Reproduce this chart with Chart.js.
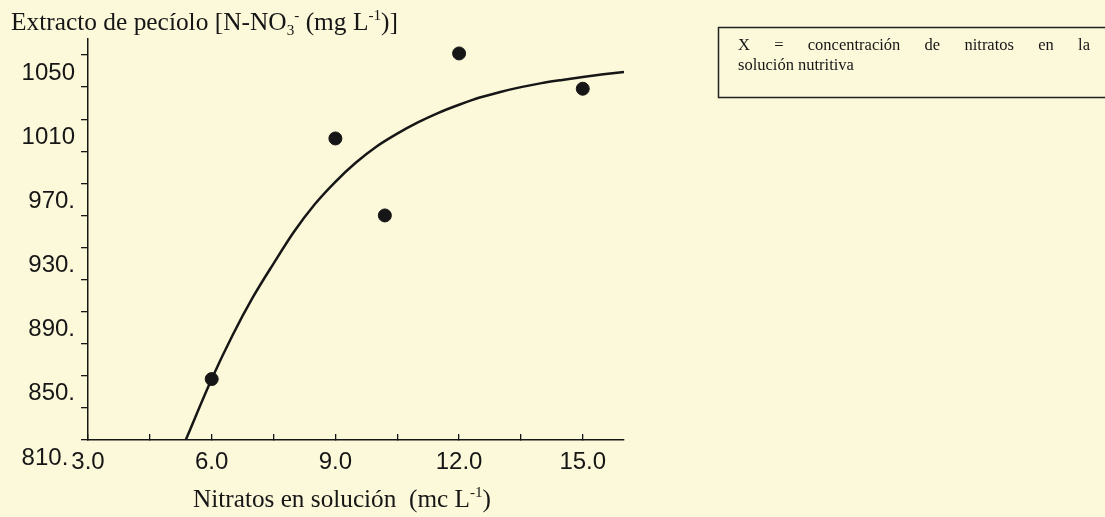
<!DOCTYPE html>
<html>
<head>
<meta charset="utf-8">
<script src="https://cdn.jsdelivr.net/npm/chart.js@4.4.1/dist/chart.umd.min.js"></script>
<style>
  html, body { margin: 0; padding: 0; background: #fcf8da; }
  #wrap { width: 1105px; height: 517px; position: relative; }
</style>
</head>
<body>
<div id="wrap"><canvas id="chart" width="1105" height="517"></canvas></div>
<script>
// measured points (Nitratos en solución vs extracto de pecíolo)
const obsX = [6.0, 9.0, 10.2, 12.0, 15.0];
const obsY = [848, 998, 950, 1051, 1029];

// fitted curve
const fitX = [5.37, 6.0, 6.5, 7.0, 7.5, 8.0, 8.5, 9.0, 9.5, 10.0, 10.5, 11.0, 11.5, 12.0, 12.5, 13.0, 13.5, 14.0, 14.5, 15.0, 15.5, 16.0];
const fitY = [810, 848, 875, 899, 920, 940, 957, 971, 983, 993, 1001, 1008, 1014, 1019, 1023.5, 1027, 1030, 1032.5, 1034.5, 1036.3, 1038, 1039.5];

const xTickValues = [3, 4.5, 6, 7.5, 9, 10.5, 12, 13.5, 15];
const xTickLabels = ['3.0', '', '6.0', '', '9.0', '', '12.0', '', '15.0'];
const yTickValues = [810, 830, 850, 870, 890, 910, 930, 950, 970, 990, 1010, 1030, 1050];
const yTickLabels = ['810. ', '', '850.', '', '890.', '', '930.', '', '970.', '', '1010', '', '1050'];

const yTitle = [['Extracto de pecíolo [N-NO'], ['3', 'sub'], ['-', 'sup'], [' (mg L'], ['-1', 'sup'], [')]']];
const xTitle = [['Nitratos en solución  (mc L'], ['-1', 'sup'], [')']];
const noteLine1 = ['X', '=', 'concentración', 'de', 'nitratos', 'en', 'la'];
const noteLine2 = 'solución nutritiva';

const ink = '#161616';
const serif = '"Liberation Serif", "DejaVu Serif", serif';
const sans = '"Liberation Sans", Arial, sans-serif';

// draws text with sub/superscripts, squeezed to a given width
function drawRich(ctx, segs, x, baseline, size, width) {
    const fontFor = s => `${s[1] ? size * 0.6 : size}px ${serif}`;
    let total = 0;
    segs.forEach(s => { ctx.font = fontFor(s); total += ctx.measureText(s[0]).width; });
    ctx.save();
    ctx.translate(x, baseline);
    ctx.scale(width / total, 1);
    ctx.textBaseline = 'alphabetic';
    ctx.textAlign = 'left';
    let cx = 0;
    segs.forEach(s => {
        ctx.font = fontFor(s);
        const dy = s[1] === 'sup' ? -size * 0.4 : s[1] === 'sub' ? size * 0.2 : 0;
        ctx.fillText(s[0], cx, dy);
        cx += ctx.measureText(s[0]).width;
    });
    ctx.restore();
}

const textPlugin = {
    id: 'texts',
    afterDraw(chart) {
        const ctx = chart.ctx;
        ctx.save();
        ctx.fillStyle = ink;
        drawRich(ctx, yTitle, 11, 30, 26, 387);
        drawRich(ctx, xTitle, 193, 507, 26, 298);

        // note box, its right side runs off the page
        ctx.strokeStyle = '#222';
        ctx.lineWidth = 1.5;
        ctx.strokeRect(718.5, 27.5, 400, 70);
        ctx.font = `16.5px ${serif}`;
        ctx.textBaseline = 'middle';
        const widths = noteLine1.map(w => ctx.measureText(w).width);
        const gap = (1090 - 738 - widths.reduce((a, b) => a + b, 0)) / (noteLine1.length - 1);
        let x = 738;
        noteLine1.forEach((w, i) => { ctx.fillText(w, x, 46); x += widths[i] + gap; });
        ctx.fillText(noteLine2, 738, 66);
        ctx.restore();
    }
};

const chart = new Chart(document.getElementById('chart'), {
    type: 'scatter',
    data: {
        datasets: [
            {
                data: fitX.map((x, i) => ({ x: x, y: fitY[i] })),
                showLine: true,
                borderColor: ink,
                borderWidth: 2.5,
                pointRadius: 0,
                cubicInterpolationMode: 'monotone',
            },
            {
                data: obsX.map((x, i) => ({ x: x, y: obsY[i] })),
                backgroundColor: ink,
                borderColor: ink,
                pointRadius: 6.5,
            },
        ],
    },
    options: {
        responsive: false,
        animation: false,
        layout: { padding: { top: 39, right: 481, bottom: 0, left: 0 } },
        plugins: {
            legend: { display: false },
            tooltip: { enabled: false },
        },
        scales: {
            x: {
                type: 'linear',
                min: 3,
                max: 16,
                afterBuildTicks: scale => { scale.ticks = xTickValues.map(v => ({ value: v })); },
                afterFit: scale => { scale.height = 77; },
                grid: { drawOnChartArea: false, tickLength: -6, color: ink, lineWidth: 1.3 },
                border: { color: ink, width: 1.5 },
                ticks: {
                    autoSkip: false,
                    maxRotation: 0,
                    padding: 14,
                    color: ink,
                    font: { family: sans, size: 24 },
                    callback: (v, i) => xTickLabels[i],
                },
            },
            y: {
                type: 'linear',
                min: 810,
                max: 1060,
                afterBuildTicks: scale => { scale.ticks = yTickValues.map(v => ({ value: v })); },
                afterFit: scale => { scale.width = 88; },
                grid: { drawOnChartArea: false, tickLength: 7, color: ink, lineWidth: 1.3 },
                border: { color: ink, width: 1.5 },
                ticks: {
                    autoSkip: false,
                    padding: 6,
                    labelOffset: 18,
                    color: ink,
                    font: { family: sans, size: 24 },
                    callback: (v, i) => yTickLabels[i],
                },
            },
        },
    },
    plugins: [textPlugin],
});
</script>
</body>
</html>
